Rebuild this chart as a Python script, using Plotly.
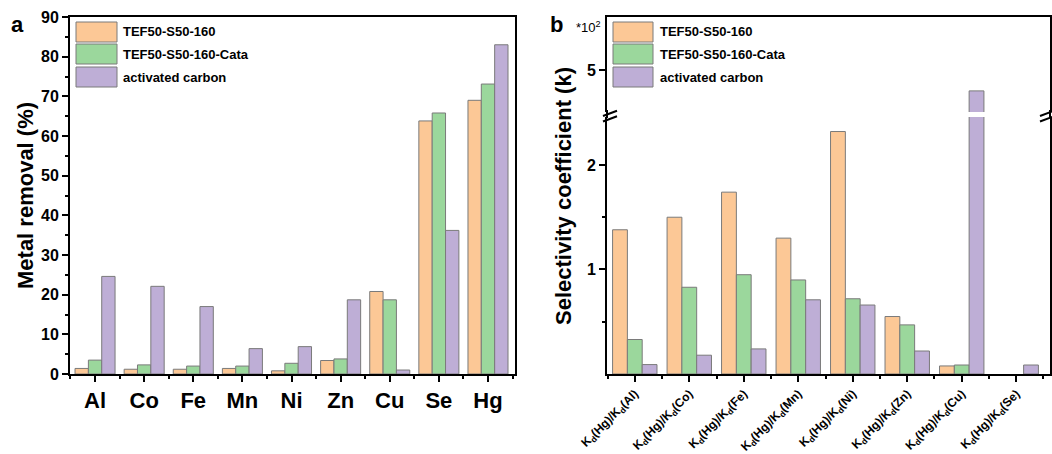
import plotly.graph_objects as go

# ---------------- data ----------------
metals = ["Al", "Co", "Fe", "Mn", "Ni", "Zn", "Cu", "Se", "Hg"]
removal_tef = [1.4, 1.2, 1.2, 1.4, 0.8, 3.4, 20.8, 63.8, 69.0]
removal_cata = [3.5, 2.3, 2.0, 2.0, 2.7, 3.8, 18.7, 65.8, 73.1]
removal_ac = [24.6, 22.1, 17.0, 6.4, 6.9, 18.7, 1.0, 36.2, 83.0]

ratio_metals = ["Al", "Co", "Fe", "Mn", "Ni", "Zn", "Cu", "Se"]
sel_tef = [1.38, 1.50, 1.74, 1.30, 2.32, 0.55, 0.077, None]
sel_cata = [0.33, 0.83, 0.95, 0.90, 0.72, 0.47, 0.086, None]
sel_ac = [0.09, 0.18, 0.24, 0.71, 0.66, 0.22, 4.62, 0.086]

series_names = ["TEF50-S50-160", "TEF50-S50-160-Cata", "activated carbon"]
colors = ["#FCC896", "#9BD79C", "#BEAED6"]
ratio_labels = ["K<sub>d</sub>(Hg)/K<sub>d</sub>(%s)" % m for m in ratio_metals]

W, H = 1052, 454
FONT = "Arial, Liberation Sans, sans-serif"


def fx(px):
    return px / W


def fy(py):
    return 1 - py / H


fig = go.Figure()
left_vals = [removal_tef, removal_cata, removal_ac]
right_vals = [sel_tef, sel_cata, sel_ac]
for name, col, lv, rv in zip(series_names, colors, left_vals, right_vals):
    mk = dict(color=col, line=dict(color="#7a7a7a", width=1))
    fig.add_trace(go.Bar(x=metals, y=lv, name=name, marker=mk, xaxis="x", yaxis="y"))
    fig.add_trace(go.Bar(x=ratio_labels, y=rv, name=name, marker=mk, xaxis="x2", yaxis="y3"))
    fig.add_trace(go.Bar(x=ratio_labels, y=rv, name=name, marker=mk, xaxis="x3", yaxis="y4"))

axis_common = dict(showline=True, linecolor="black", linewidth=2, showgrid=False,
                   zeroline=False, ticks="outside", tickcolor="black", tickwidth=2,
                   ticklen=6, automargin=False)

fig.update_layout(
    width=W, height=H, margin=dict(l=0, r=0, t=0, b=0, autoexpand=False),
    paper_bgcolor="white", plot_bgcolor="white", showlegend=False,
    barmode="group", bargap=0.185, bargroupgap=0,
    font=dict(family=FONT, color="black"),
    xaxis=dict(axis_common, domain=[fx(70), fx(515)], anchor="y", mirror=True,
               range=[-0.51, 8.55],
               tickfont=dict(size=22, weight="bold"),
               minor=dict(tickvals=[i - 0.5 for i in range(10)], ticks="outside",
                          ticklen=3, tickwidth=1.5, tickcolor="black")),
    yaxis=dict(axis_common, domain=[fy(374), fy(17)], anchor="x", mirror=True,
               range=[0, 90], tickvals=list(range(0, 91, 10)),
               tickfont=dict(size=16, weight="bold"),
               minor=dict(tickvals=list(range(5, 90, 10)), ticks="outside",
                          ticklen=3, tickwidth=1.5, tickcolor="black")),
    xaxis2=dict(axis_common, domain=[fx(607), fx(1050)], anchor="y3", mirror=False,
                range=[-0.51, 7.62], tickangle=-45,
                tickfont=dict(size=12, weight="bold"),
                minor=dict(tickvals=[i - 0.5 for i in range(9)], ticks="outside",
                           ticklen=3, tickwidth=1.5, tickcolor="black")),
    yaxis3=dict(axis_common, domain=[fy(374), fy(117)], anchor="x2", mirror=True,
                range=[0, 2.459], tickvals=[1, 2],
                tickfont=dict(size=16, weight="bold"),
                minor=dict(tickvals=[0.5, 1.5], ticks="outside",
                           ticklen=3, tickwidth=1.5, tickcolor="black")),
    xaxis3=dict(axis_common, domain=[fx(607), fx(1050)], anchor="y4", matches="x2",
                side="top", ticks="", showticklabels=False),
    yaxis4=dict(axis_common, domain=[fy(112), fy(17)], anchor="x3", mirror=True,
                range=[4.236, 5.964], tickvals=[5],
                tickfont=dict(size=16, weight="bold")),
)

shapes = []
annotations = []

# custom legends
for x0, x1, xt in [(76, 117, 121), (613, 653, 658)]:
    rows = [(22, 42), (44, 64), (67, 87)]
    for (y0, y1), col, name in zip(rows, colors, series_names):
        shapes.append(dict(type="rect", xref="paper", yref="paper",
                           x0=fx(x0), x1=fx(x1), y0=fy(y1), y1=fy(y0),
                           fillcolor=col, line=dict(color="#7a7a7a", width=1)))
        annotations.append(dict(xref="paper", yref="paper", x=fx(xt), y=fy((y0 + y1) / 2),
                                text=name, showarrow=False, xanchor="left", yanchor="middle",
                                font=dict(size=13, weight="bold", family=FONT)))

# axis break marks
for xb, xl in [(610, 607), (1047, 1050)]:
    shapes.append(dict(type="line", xref="paper", yref="paper",
                       x0=fx(xl), x1=fx(xl), y0=fy(118), y1=fy(110),
                       line=dict(color="black", width=2)))
    for dy in [0, 5.5]:
        shapes.append(dict(type="line", xref="paper", yref="paper",
                           x0=fx(xb - 7), y0=fy(116 + dy), x1=fx(xb + 7), y1=fy(110.7 + dy),
                           line=dict(color="black", width=2)))


def label(x, y, text, size, bold=True, angle=0):
    return dict(xref="paper", yref="paper", x=fx(x), y=fy(y), text=text, textangle=angle,
                showarrow=False, xanchor="center", yanchor="middle",
                font=dict(size=size, weight="bold" if bold else "normal", family=FONT))


annotations += [
    label(25, 196, "Metal removal (%)", 22, angle=-90),
    label(563, 196, "Selectivity coefficient (k)", 22, angle=-90),
    label(17, 25, "a", 22),
    label(556, 25, "b", 22),
    label(588, 27, "*10<sup>2</sup>", 13, bold=False),
]

fig.update_layout(shapes=shapes, annotations=annotations)
fig.write_html("out.html")
